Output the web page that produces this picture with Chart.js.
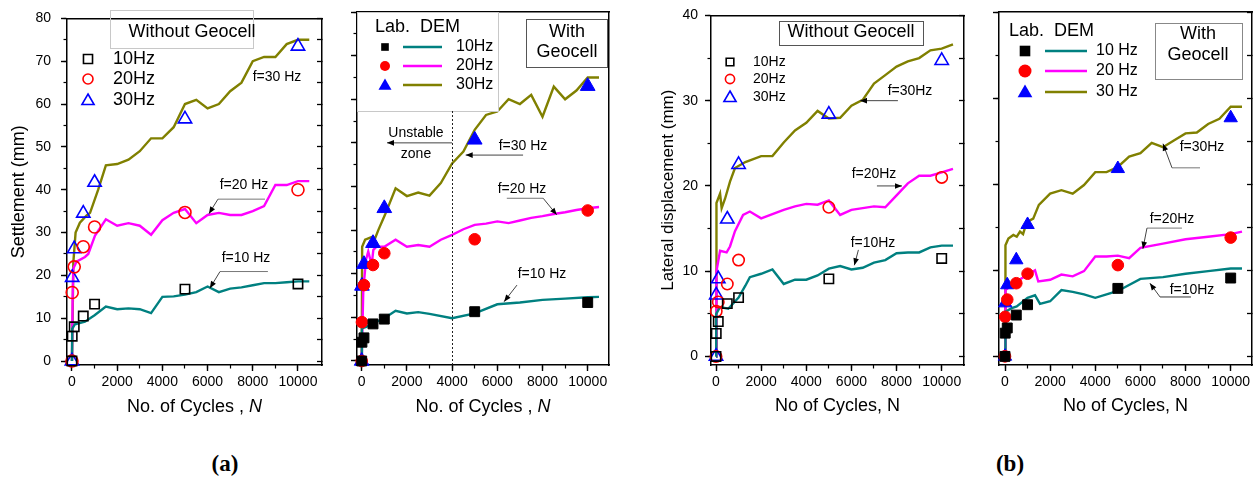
<!DOCTYPE html>
<html><head><meta charset="utf-8">
<script src="https://cdn.jsdelivr.net/npm/chart.js@4.4.0/dist/chart.umd.min.js"></script>
<style>
html,body{margin:0;padding:0;background:#fff;}
#wrap{position:relative;width:1254px;height:494px;background:#fff;overflow:hidden;}
canvas{position:absolute;top:0;}
.lab{position:absolute;font-family:'Liberation Serif','Times New Roman',serif;font-weight:bold;font-size:23px;color:#000;transform:translate(-50%,-50%);white-space:nowrap;}
</style></head><body>
<div id="wrap">
<canvas id="c1" width="330" height="425" style="left:0px"></canvas>
<canvas id="c2" width="300" height="425" style="left:330px"></canvas>
<canvas id="c3" width="340" height="425" style="left:630px"></canvas>
<canvas id="c4" width="284" height="425" style="left:970px"></canvas>
<div class="lab" style="left:225px;top:464px">(a)</div>
<div class="lab" style="left:1010px;top:464px">(b)</div>
</div>
<script>
const FONT = "'Liberation Sans', Arial, sans-serif";
Chart.defaults.font.family = FONT;

// ---------- tick values ----------
const xMajorTicks = [0, 2000, 4000, 6000, 8000, 10000];
const xMinorTicks = [0, 1000, 2000, 3000, 4000, 5000, 6000, 7000, 8000, 9000, 10000];
const yMajorA = [0, 10, 20, 30, 40, 50, 60, 70, 80];
const yMinorA = [0, 5, 10, 15, 20, 25, 30, 35, 40, 45, 50, 55, 60, 65, 70, 75, 80];
const yMajorB = [0, 10, 20, 30, 40];
const yMinorB = [0, 5, 10, 15, 20, 25, 30, 35, 40];

// ---------- laboratory points (markers) ----------
const cyclesLab = [0, 10, 100, 500, 1000, 5000, 10000];
const a1Lab10 = [0, 5.8, 8.0, 10.5, 13.3, 16.8, 18.0];
const a1Lab20 = [0, 16, 22, 26.7, 31.3, 34.7, 40];
const a1Lab30 = [0, 19.5, 26.2, 34.5, 41.7, 56.5, 73.5];
const a2Lab10 = [0, 4.3, 5.3, 8.5, 9.6, 11.3, 13.4];
const a2Lab20 = [0, 8.9, 17.4, 22, 24.7, 27.9, 34.5];
const a2Lab30 = [0, 17.2, 22.2, 27, 35, 50.7, 63];
const b1Lab10 = [0, 2.7, 4.1, 6.2, 6.9, 9.1, 11.5];
const b1Lab20 = [0, 5.3, 6.4, 8.5, 11.3, 17.5, 21];
const b1Lab30 = [0, 7.2, 9.1, 16.1, 22.5, 28.4, 34.7];
const b2Lab10 = [0, 2.7, 3.3, 4.8, 6.0, 7.9, 9.1];
const b2Lab20 = [0, 4.6, 6.6, 8.5, 9.6, 10.6, 13.8];
const b2Lab30 = [0, 6.2, 8.3, 11.2, 15.3, 21.8, 27.7];

// ---------- DEM curves ----------
const a1DemN10 = [0,10,130,575,1000,1500,2000,2500,3000,3500,4000,4500,5000,5500,6000,6500,7000,7500,8000,8500,9000,9500,10000,10500];
const a1Dem10  = [0,7.5,8.6,9.2,10.7,12.7,12.1,12.3,12.1,11.2,15,15.1,15.5,16.1,17.4,16.1,16.9,17.2,17.7,18.2,18.2,18.4,18.6,18.6];
const a1DemN20 = [0,30,60,200,575,720,1020,1500,2000,2500,3000,3500,4000,4500,5000,5500,6000,6500,7000,7500,8000,8500,9000,9500,10000,10500];
const a1Dem20  = [0,15,21.6,23.2,24.3,25,29.3,33.1,31.6,32.2,31.6,29.5,32.9,34.6,35.5,32.2,34.1,34.6,34.1,34.1,35,36.2,41.1,41.1,42,42];
const a1DemN30 = [0,30,60,160,350,650,800,1160,1500,2000,2500,3000,3500,4000,4500,5000,5500,6000,6500,7000,7500,8000,8500,9000,9500,10000,10500];
const a1Dem30  = [0,10,23,30,32.3,34,34.6,40,45.7,46,47,49,52,52,54.6,60,61,59,60,63,65,70,71,71,74,75,75];

const a2DemN10 = [0,10,200,500,1000,1500,2000,2500,3000,4000,5000,6000,7000,8000,9000,10000,10500];
const a2Dem10  = [0,7.5,7.8,8.6,9.8,11.5,10.9,11.2,10.8,9.8,10.9,13,13.4,14,14.3,14.6,14.7];
const a2DemN20 = [0,70,190,290,440,515,660,1000,1500,2000,2500,3000,3500,4000,4500,5000,5500,6000,6500,7000,7500,8000,8500,9000,9500,10000,10500];
const a2Dem20  = [0,16.3,23.2,25.1,22,25.5,26.2,26.2,27.8,26.2,26.6,26.2,27.8,28.9,30.2,31.2,31.5,32,31.6,32.2,32.8,33.2,33.7,34.1,34.6,35,35.3];
const a2DemN30 = [0,20,150,440,590,735,1030,1500,2000,2500,3000,3500,4000,4500,5000,5500,6000,6500,7000,7500,8000,8500,9000,9500,10000,10500];
const a2Dem30  = [0,26.2,27.8,28.4,28.1,30,33.5,39.6,37.8,38.6,37.9,40.8,45.3,48,53,56.4,57.2,60,58.9,61,56,62.9,60,62,65,65];

const b1DemN10 = [0,10,180,545,1000,1300,1500,2000,2500,3000,3500,4000,4500,5000,5500,6000,6500,7000,7500,8000,8500,9000,9500,10000,10500];
const b1Dem10  = [0,5,5.8,5.6,6.9,8.3,9.3,9.7,10.2,8.5,9,9,9.5,10.3,10.6,10.2,10.4,11,11.3,12.1,12.2,12.2,12.8,13,13];
const b1DemN20 = [0,20,180,470,620,840,1200,1500,2000,2500,3000,3500,4000,4500,5000,5500,6000,6500,7000,7500,8000,8500,9000,9500,10000,10500];
const b1Dem20  = [0,10,12.4,12.2,12.9,14.7,16.6,17,16.2,16.7,17.2,17.6,17.9,17.8,18.3,16.6,17.2,17.4,17.6,17.5,18.9,20.3,21.2,21.2,21.6,22];
const b1DemN30 = [0,20,180,250,400,620,840,1300,2000,2500,3000,3500,4000,4500,5000,5500,6000,6500,7000,7500,8000,8500,9000,9500,10000,10500];
const b1Dem30  = [0,18,19.1,17.4,18.5,20.5,22.1,22.8,23.5,23.5,25.1,26.5,27.4,28.8,27.9,28,29.4,30.1,32,33,34,34.6,35,35.9,36.1,36.6];

const b2DemN10 = [0,20,300,520,1000,1330,1550,2000,2500,3000,3500,4000,4500,5000,6000,7000,8000,9000,10000,10500];
const b2Dem10  = [0,5.2,5.6,5.8,6.8,7.1,6.1,6.4,7.7,7.5,7.2,6.8,7.2,7.6,9,9.2,9.6,9.9,10.2,10.2];
const b2DemN20 = [0,20,220,520,1000,1330,1475,2000,2500,3000,3500,4000,4500,5000,5500,6000,7000,8000,9000,10000,10500];
const b2Dem20  = [0,7.7,8.1,8.7,9.5,10,8.7,8.9,9.5,9.3,9.9,11.6,11.6,11.7,11.4,12.6,13.1,13.6,13.9,14.2,14.5];
const b2DemN30 = [0,20,150,370,520,665,800,960,1250,1500,2000,2500,3000,3500,4000,4500,5000,5500,6000,6500,7000,7500,8000,8500,9000,9500,10000,10500];
const b2Dem30  = [0,12.9,13.7,14.1,13.9,14.5,14.2,15.6,16,17.6,18.9,19.3,18.9,19.9,21.4,21.4,22,23.2,23.6,24.8,24.3,25.1,25.9,26,27,27.6,29,29];

const C10 = '#008080', C20 = '#ff00ff', C30 = '#808000';
const M10 = '#000000', M20 = '#ff0000', M30 = '#0000ff';

function pts(xs, ys) { return xs.map((x, i) => ({x: x, y: ys[i]})); }
function markerSet(vals, style, color, filled, r) {
  return {data: pts(cyclesLab, vals), showLine: false, pointStyle: style, pointRadius: r, pointHoverRadius: r,
    pointBorderColor: color, pointBackgroundColor: filled ? color : 'rgba(0,0,0,0)',
    pointBorderWidth: filled ? 1 : 1.6, clip: false, order: 0};
}
function lineSet(xs, ys, color) {
  return {data: pts(xs, ys), borderColor: color, borderWidth: 2.4, pointRadius: 0, tension: 0, fill: false, order: 1};
}

function makeScales(p) {
  const tickFont = {family: FONT, size: p.tickSize || 14};
  const gMajor = {display: true, drawOnChartArea: false, drawTicks: true, tickLength: 6, tickWidth: 1.4, tickColor: '#000'};
  const gMinor = {display: true, drawOnChartArea: false, drawTicks: true, tickLength: 3.5, tickWidth: 1.2, tickColor: '#000'};
  const border = {display: true, color: '#000', width: 1.5};
  return {
    x: {type: 'linear', position: 'bottom', weight: 1, min: p.xMin, max: p.xMax,
      afterBuildTicks: s => { s.ticks = xMajorTicks.map(v => ({value: v})); },
      afterFit: s => { s.height = 60; },
      ticks: {font: {family: FONT, size: p.xTickSize || 14}, color: '#000', padding: 3, maxRotation: 0, autoSkip: false, callback: v => String(v)},
      grid: gMajor, border: border,
      title: p.xTitle ? {display: true, text: p.xTitle, font: {family: FONT, size: 18}, color: '#000', padding: {top: 0, bottom: 8}} : {display: false}},
    xMinor: {type: 'linear', position: 'bottom', weight: 0, min: p.xMin, max: p.xMax,
      afterBuildTicks: s => { s.ticks = xMinorTicks.map(v => ({value: v})); },
      afterFit: s => { s.height = 0; },
      ticks: {display: false}, grid: gMinor, border: {display: false}},
    xTop: {type: 'linear', position: 'top', min: p.xMin, max: p.xMax,
      afterFit: s => { s.height = 0; },
      ticks: {display: false}, grid: {display: false}, border: border},
    y: {type: 'linear', position: 'left', weight: 1, min: p.yMin, max: p.yMax,
      afterBuildTicks: s => { s.ticks = p.yMajor.map(v => ({value: v})); },
      afterFit: s => { s.width = p.yW; },
      ticks: {display: p.yLabels, font: tickFont, color: '#000', padding: p.yPad || 8, autoSkip: false, callback: v => String(v)},
      grid: gMajor, border: border,
      title: p.yTitle ? {display: true, text: p.yTitle, font: {family: FONT, size: p.yTitleSize}, color: '#000', padding: {top: p.yTitlePad, bottom: 0}} : {display: false}},
    yMinor: {type: 'linear', position: 'left', weight: 0, min: p.yMin, max: p.yMax,
      afterBuildTicks: s => { s.ticks = p.yMinor.map(v => ({value: v})); },
      afterFit: s => { s.width = 0; },
      ticks: {display: false}, grid: gMinor, border: {display: false}},
    yRight: {type: 'linear', position: 'right', min: p.yMin, max: p.yMax,
      afterBuildTicks: s => { s.ticks = p.yRight.map(v => ({value: v})); },
      afterFit: s => { s.width = 0; },
      ticks: {display: false},
      grid: {display: p.yRight.length > 0, drawOnChartArea: false, drawTicks: true, tickLength: -5, tickWidth: 1.3, tickColor: '#000'},
      border: border}
  };
}

// ---------- annotation helpers ----------
function drawMarker(ctx, shape, x, y, r, color, filled) {
  ctx.save(); ctx.beginPath();
  if (shape === 'rect') { const s = r * Math.SQRT1_2; ctx.rect(x - s, y - s, 2 * s, 2 * s); }
  else if (shape === 'circle') { ctx.arc(x, y, r, 0, Math.PI * 2); }
  else {
    const a = 2 * Math.PI / 3;
    ctx.moveTo(x, y - r);
    ctx.lineTo(x + r * Math.sin(a), y - r * Math.cos(a));
    ctx.lineTo(x + r * Math.sin(2 * a), y - r * Math.cos(2 * a));
    ctx.closePath();
  }
  if (filled) { ctx.fillStyle = color; ctx.fill(); }
  else { ctx.strokeStyle = color; ctx.lineWidth = 1.6; ctx.stroke(); }
  ctx.restore();
}
function arrowHead(ctx, x1, y1, x2, y2) {
  const ang = Math.atan2(y2 - y1, x2 - x1), L = 7, W = 2.8;
  ctx.beginPath();
  ctx.moveTo(x2, y2);
  ctx.lineTo(x2 - L * Math.cos(ang) + W * Math.sin(ang), y2 - L * Math.sin(ang) - W * Math.cos(ang));
  ctx.lineTo(x2 - L * Math.cos(ang) - W * Math.sin(ang), y2 - L * Math.sin(ang) + W * Math.cos(ang));
  ctx.closePath(); ctx.fillStyle = '#000'; ctx.fill();
}

const ANN = {
  c1: {italicX: true, items: [
    {t: 'box', x1: 110, y1: 10, x2: 253, y2: 48, stroke: '#c8c8c8'},
    {t: 'text', s: 'Without Geocell', x: 192, y: 32, size: 18},
    {t: 'mk', shape: 'rect', filled: false, color: M10, r: 6.4, x: 88, y: 59},
    {t: 'mk', shape: 'circle', filled: false, color: M20, r: 5, x: 88, y: 79},
    {t: 'mk', shape: 'triangle', filled: false, color: M30, r: 7, x: 88, y: 101},
    {t: 'text', s: '10Hz', x: 113, y: 59, size: 18, align: 'left'},
    {t: 'text', s: '20Hz', x: 113, y: 79, size: 18, align: 'left'},
    {t: 'text', s: '30Hz', x: 113, y: 100, size: 18, align: 'left'},
    {t: 'text', s: 'f=30 Hz', x: 277, y: 77, size: 14},
    {t: 'text', s: 'f=20 Hz', x: 244, y: 185, size: 14},
    {t: 'dline', a: [6460, 37.8], b: [8540, 37.8], color: '#777'},
    {t: 'darrow', a: [6460, 37.8], b: [6060, 34.4]},
    {t: 'text', s: 'f=10 Hz', x: 246, y: 258, size: 14},
    {t: 'dline', a: [6550, 20.9], b: [8670, 20.9], color: '#777'},
    {t: 'darrow', a: [6550, 20.9], b: [6100, 17.0]}
  ]},
  c2: {italicX: true, items: [
    {t: 'box', x1: 27, y1: 12, x2: 168, y2: 111, stroke: '#c8c8c8', fill: '#fff'},
    {t: 'text', s: 'Lab.  DEM', x: 45, y: 27, size: 18, align: 'left'},
    {t: 'mk', shape: 'rect', filled: true, color: M10, r: 5.4, x: 55, y: 47},
    {t: 'mk', shape: 'circle', filled: true, color: M20, r: 5, x: 55, y: 66},
    {t: 'mk', shape: 'triangle', filled: true, color: M30, r: 7.5, x: 55, y: 86},
    {t: 'seg', x1: 73, x2: 112, y: 47, color: C10},
    {t: 'seg', x1: 73, x2: 112, y: 66, color: C20},
    {t: 'seg', x1: 73, x2: 112, y: 85, color: C30},
    {t: 'text', s: '10Hz', x: 126, y: 47, size: 16, align: 'left'},
    {t: 'text', s: '20Hz', x: 126, y: 66, size: 16, align: 'left'},
    {t: 'text', s: '30Hz', x: 126, y: 85, size: 16, align: 'left'},
    {t: 'box', x1: 196, y1: 19, x2: 277, y2: 67, stroke: '#555'},
    {t: 'text', s: 'With', x: 237, y: 32, size: 18},
    {t: 'text', s: 'Geocell', x: 237, y: 52, size: 18},
    {t: 'vdash', n: 4000, top: 111},
    {t: 'text', s: 'Unstable', x: 86, y: 133, size: 14},
    {t: 'text', s: 'zone', x: 86, y: 154, size: 14},
    {t: 'darrow', a: [4000, 50], b: [1120, 50]},
    {t: 'text', s: 'f=30 Hz', x: 193, y: 146, size: 14},
    {t: 'darrow', a: [7140, 47.2], b: [4600, 47.2]},
    {t: 'text', s: 'f=20 Hz', x: 192, y: 189, size: 14},
    {t: 'dline', a: [6420, 37.3], b: [8030, 37.3], color: '#777'},
    {t: 'darrow', a: [8030, 37.3], b: [8630, 33.5]},
    {t: 'text', s: 'f=10 Hz', x: 212, y: 274, size: 14},
    {t: 'darrow', a: [6870, 17.4], b: [6300, 13.6]}
  ]},
  c3: {italicX: false, items: [
    {t: 'box', x1: 149, y1: 21, x2: 293, y2: 45, stroke: '#555'},
    {t: 'text', s: 'Without Geocell', x: 221, y: 32, size: 18},
    {t: 'mk', shape: 'rect', filled: false, color: M10, r: 5.4, x: 100, y: 62},
    {t: 'mk', shape: 'circle', filled: false, color: M20, r: 4.6, x: 100, y: 79},
    {t: 'mk', shape: 'triangle', filled: false, color: M30, r: 7, x: 100, y: 98},
    {t: 'text', s: '10Hz', x: 123, y: 62, size: 14, align: 'left'},
    {t: 'text', s: '20Hz', x: 123, y: 79, size: 14, align: 'left'},
    {t: 'text', s: '30Hz', x: 123, y: 97, size: 14, align: 'left'},
    {t: 'text', s: 'f=30Hz', x: 280, y: 91, size: 14},
    {t: 'darrow', a: [8060, 30], b: [6380, 30]},
    {t: 'text', s: 'f=20Hz', x: 244, y: 174, size: 14},
    {t: 'darrow', a: [7130, 20], b: [8240, 20]},
    {t: 'text', s: 'f=10Hz', x: 243, y: 243, size: 14},
    {t: 'darrow', a: [6310, 12.5], b: [6130, 10.7]}
  ]},
  c4: {italicX: false, items: [
    {t: 'text', s: 'Lab.  DEM', x: 39, y: 31, size: 18, align: 'left'},
    {t: 'mk', shape: 'rect', filled: true, color: M10, r: 7.5, x: 55, y: 51},
    {t: 'mk', shape: 'circle', filled: true, color: M20, r: 6.5, x: 55, y: 71},
    {t: 'mk', shape: 'triangle', filled: true, color: M30, r: 8.5, x: 55, y: 93},
    {t: 'seg', x1: 75, x2: 117, y: 51, color: C10},
    {t: 'seg', x1: 75, x2: 117, y: 71, color: C20},
    {t: 'seg', x1: 75, x2: 117, y: 92, color: C30},
    {t: 'text', s: '10 Hz', x: 126, y: 51, size: 16, align: 'left'},
    {t: 'text', s: '20 Hz', x: 126, y: 71, size: 16, align: 'left'},
    {t: 'text', s: '30 Hz', x: 126, y: 92, size: 16, align: 'left'},
    {t: 'box', x1: 185, y1: 23, x2: 272, y2: 79, stroke: '#888'},
    {t: 'text', s: 'With', x: 228, y: 34, size: 18},
    {t: 'text', s: 'Geocell', x: 228, y: 55, size: 18},
    {t: 'text', s: 'f=30Hz', x: 232, y: 147, size: 14},
    {t: 'dline', a: [7400, 21.9], b: [8640, 21.9], color: '#777'},
    {t: 'darrow', a: [7400, 21.9], b: [7000, 24.7]},
    {t: 'text', s: 'f=20Hz', x: 202, y: 219, size: 14},
    {t: 'dline', a: [6290, 14.9], b: [7840, 14.9], color: '#777'},
    {t: 'darrow', a: [6290, 14.9], b: [6110, 12.5]},
    {t: 'text', s: 'f=10Hz', x: 222, y: 290, size: 14},
    {t: 'dline', a: [6870, 6.9], b: [8240, 6.9], color: '#333'},
    {t: 'darrow', a: [6870, 6.9], b: [6420, 8.5]}
  ]}
};

const annotPlugin = {
  id: 'annot',
  afterDraw(chart) {
    const cfg = ANN[chart.canvas.id];
    if (!cfg) return;
    const ctx = chart.ctx, xs = chart.scales.x, ys = chart.scales.y, ca = chart.chartArea;
    const px = v => xs.getPixelForValue(v), py = v => ys.getPixelForValue(v);
    ctx.save();
    for (const it of cfg.items) {
      if (it.t === 'box') {
        if (it.fill) { ctx.fillStyle = it.fill; ctx.fillRect(it.x1, it.y1, it.x2 - it.x1, it.y2 - it.y1); }
        ctx.strokeStyle = it.stroke; ctx.lineWidth = 1;
        ctx.strokeRect(it.x1 + 0.5, it.y1 + 0.5, it.x2 - it.x1, it.y2 - it.y1);
      } else if (it.t === 'text') {
        ctx.fillStyle = '#000'; ctx.font = it.size + 'px ' + FONT;
        ctx.textAlign = it.align || 'center'; ctx.textBaseline = 'middle';
        ctx.fillText(it.s, it.x, it.y);
      } else if (it.t === 'mk') {
        drawMarker(ctx, it.shape, it.x, it.y, it.r, it.color, it.filled);
      } else if (it.t === 'seg') {
        ctx.strokeStyle = it.color; ctx.lineWidth = 2.4;
        ctx.beginPath(); ctx.moveTo(it.x1, it.y); ctx.lineTo(it.x2, it.y); ctx.stroke();
      } else if (it.t === 'dline') {
        ctx.strokeStyle = it.color || '#555'; ctx.lineWidth = 1;
        ctx.beginPath(); ctx.moveTo(px(it.a[0]), py(it.a[1])); ctx.lineTo(px(it.b[0]), py(it.b[1])); ctx.stroke();
      } else if (it.t === 'darrow') {
        const x1 = px(it.a[0]), y1 = py(it.a[1]), x2 = px(it.b[0]), y2 = py(it.b[1]);
        ctx.strokeStyle = '#444'; ctx.lineWidth = 1;
        ctx.beginPath(); ctx.moveTo(x1, y1); ctx.lineTo(x2, y2); ctx.stroke();
        arrowHead(ctx, x1, y1, x2, y2);
      } else if (it.t === 'vdash') {
        const x = Math.round(px(it.n)) + 0.5;
        ctx.strokeStyle = '#222'; ctx.lineWidth = 1; ctx.setLineDash([2, 2]);
        ctx.beginPath(); ctx.moveTo(x, it.top); ctx.lineTo(x, ca.bottom); ctx.stroke();
        ctx.setLineDash([]);
      }
    }
    if (cfg.italicX) {
      const cx = (ca.left + ca.right) / 2, y = 407;
      const a = 'No. of Cycles , ', b = 'N';
      ctx.font = '18px ' + FONT; const wa = ctx.measureText(a).width;
      ctx.font = 'italic 18px ' + FONT; const wb = ctx.measureText(b).width;
      const x0 = cx - (wa + wb) / 2;
      ctx.fillStyle = '#000'; ctx.textAlign = 'left'; ctx.textBaseline = 'middle';
      ctx.font = '18px ' + FONT; ctx.fillText(a, x0, y);
      ctx.font = 'italic 18px ' + FONT; ctx.fillText(b, x0 + wa, y);
    }
    ctx.restore();
  }
};

function buildChart(id, p, datasets) {
  return new Chart(document.getElementById(id), {
    type: 'line',
    data: {datasets: datasets},
    options: {
      responsive: false, animation: false, devicePixelRatio: 1, events: [],
      layout: {padding: {left: 0, right: p.padR, top: 12, bottom: 0}, autoPadding: false},
      plugins: {legend: {display: false}, tooltip: {enabled: false}},
      scales: makeScales(p)
    },
    plugins: [annotPlugin]
  });
}

buildChart('c1', {xMin: -220, xMax: 11063, yMin: -0.92, yMax: 80, yMajor: yMajorA, yMinor: yMinorA, yRight: yMinorA,
  yW: 67, yLabels: true, yPad: 10, yTitle: 'Settlement (mm)', yTitleSize: 18, yTitlePad: 8, xTitle: null, padR: 8}, [
  markerSet(a1Lab10, 'rect', M10, false, 6.6),
  markerSet(a1Lab20, 'circle', M20, false, 6),
  markerSet(a1Lab30, 'triangle', M30, false, 7.7),
  lineSet(a1DemN10, a1Dem10, C10),
  lineSet(a1DemN20, a1Dem20, C20),
  lineSet(a1DemN30, a1Dem30, C30)
]);
buildChart('c2', {xMin: -208, xMax: 10942, yMin: -0.92, yMax: 80, yMajor: yMajorA, yMinor: yMinorA, yRight: [],
  yW: 27, yLabels: false, xTitle: null, padR: 21}, [
  markerSet(a2Lab10, 'rect', M10, true, 7),
  markerSet(a2Lab20, 'circle', M20, true, 5.8),
  markerSet(a2Lab30, 'triangle', M30, true, 8.5),
  lineSet(a2DemN10, a2Dem10, C10),
  lineSet(a2DemN20, a2Dem20, C20),
  lineSet(a2DemN30, a2Dem30, C30)
]);
buildChart('c3', {xMin: -222, xMax: 10988, yMin: -1, yMax: 40, yMajor: yMajorB, yMinor: yMinorB, yRight: yMinorB,
  yW: 81, yLabels: true, yPad: 7, yTitle: 'Lateral displacement (mm)', yTitleSize: 17, yTitlePad: 28, xTitle: 'No of Cycles, N', padR: 6}, [
  markerSet(b1Lab10, 'rect', M10, false, 6.6),
  markerSet(b1Lab20, 'circle', M20, false, 5.7),
  markerSet(b1Lab30, 'triangle', M30, false, 7.7),
  lineSet(b1DemN10, b1Dem10, C10),
  lineSet(b1DemN20, b1Dem20, C20),
  lineSet(b1DemN30, b1Dem30, C30)
]);
buildChart('c4', {xMin: -266, xMax: 10944, yMin: -1, yMax: 40, yMajor: yMajorB, yMinor: yMinorB, yRight: yMinorB,
  yW: 29, yLabels: false, xTitle: 'No of Cycles, N', padR: 2}, [
  markerSet(b2Lab10, 'rect', M10, true, 7),
  markerSet(b2Lab20, 'circle', M20, true, 5.8),
  markerSet(b2Lab30, 'triangle', M30, true, 7.7),
  lineSet(b2DemN10, b2Dem10, C10),
  lineSet(b2DemN20, b2Dem20, C20),
  lineSet(b2DemN30, b2Dem30, C30)
]);
</script>
</body></html>
